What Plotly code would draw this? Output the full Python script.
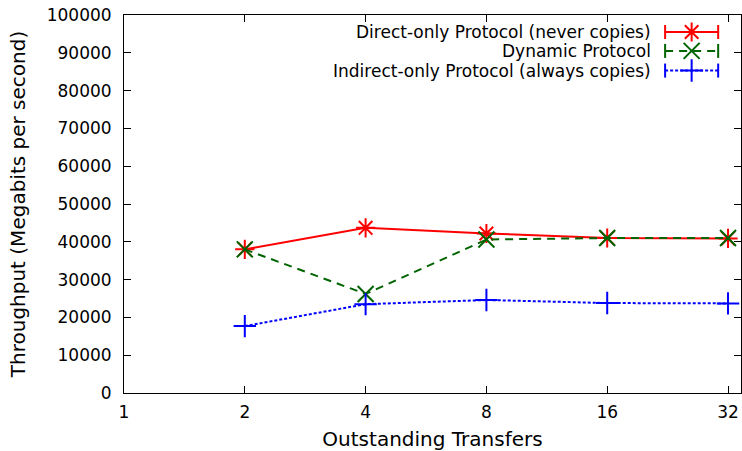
import plotly.graph_objects as go

transfers = [2, 4, 8, 16, 32]
direct = [38000, 43700, 42200, 41000, 40900]
dynamic = [38000, 26200, 40600, 41000, 41000]
indirect = [17700, 23500, 24600, 23800, 23700]
x_ticks = [1, 2, 4, 8, 16, 32]
y_ticks = list(range(0, 100001, 10000))

names = ["Direct-only Protocol (never copies)", "Dynamic Protocol",
         "Indirect-only Protocol (always copies)"]
colors = ["#ff0000", "#006400", "#0000ff"]
symbols = ["asterisk-open", "x-thin-open", "cross-thin-open"]
dashes = ["solid", "8px,6px", "3px,2px"]
series = [direct, dynamic, indirect]

FONT = "DejaVu Sans"
FS = 17
fig = go.Figure()
for vals, c, s, d, n in zip(series, colors, symbols, dashes, names):
    fig.add_trace(go.Scatter(
        x=transfers, y=vals, mode="lines+markers", name=n,
        line=dict(color=c, width=2, dash=d),
        marker=dict(symbol=s, size=16, color=c, line=dict(color=c, width=2)),
        showlegend=False))

# custom gnuplot-style legend (text then sample)
leg_y = [0.955, 0.905, 0.853]
x0, x1, xm = 0.877, 0.963, 0.92
for c, s, d, n, ly in zip(colors, symbols, dashes, names, leg_y):
    fig.add_trace(go.Scatter(x=[x0, x1], y=[ly, ly], xaxis="x2", yaxis="y2",
                             mode="lines+markers", line=dict(color=c, width=2, dash=d),
                             marker=dict(symbol="line-ns", size=10, color=c,
                                         line=dict(color=c, width=2)),
                             showlegend=False, hoverinfo="skip"))
    fig.add_trace(go.Scatter(x=[xm], y=[ly], xaxis="x2", yaxis="y2", mode="markers",
                             marker=dict(symbol=s, size=16, color=c,
                                         line=dict(color=c, width=2)),
                             showlegend=False, hoverinfo="skip"))
    fig.add_annotation(text=n, xref="paper", yref="paper", x=0.857, y=ly,
                       xanchor="right", yanchor="middle", showarrow=False,
                       font=dict(family=FONT, size=FS, color="black"))

fig.update_layout(
    width=742, height=451,
    margin=dict(l=124, r=1, t=15, b=58),
    plot_bgcolor="white", paper_bgcolor="white",
    font=dict(family=FONT, size=FS, color="black"),
    xaxis=dict(type="log", range=[0, 1.5375], tickvals=x_ticks,
               ticktext=[str(v) for v in x_ticks], automargin=False,
               ticklabeloverflow="allow",
               ticks="inside", ticklen=7, tickcolor="black", showline=True,
               linecolor="black", linewidth=1, mirror="ticks", showgrid=False,
               zeroline=False, ticklabelstandoff=4,
               title=dict(text="Outstanding Transfers", standoff=15)),
    yaxis=dict(range=[0, 100000], tickvals=y_ticks,
               ticktext=[str(v) for v in y_ticks], automargin=False,
               ticklabeloverflow="allow",
               ticks="inside", ticklen=7, tickcolor="black", showline=True,
               linecolor="black", linewidth=1, mirror="ticks", showgrid=False,
               zeroline=False, ticklabelstandoff=8,
               title=dict(text="Throughput (Megabits per second)", standoff=15)),
    xaxis2=dict(overlaying="x", range=[0, 1], visible=False),
    yaxis2=dict(overlaying="y", range=[0, 1], visible=False),
)
# remove the browser's default 8px page margin so the figure fills the window
fig.write_html("out.html", config={"displayModeBar": False},
               post_script="document.body.style.margin='0';"
                           "document.body.style.overflow='hidden';")
